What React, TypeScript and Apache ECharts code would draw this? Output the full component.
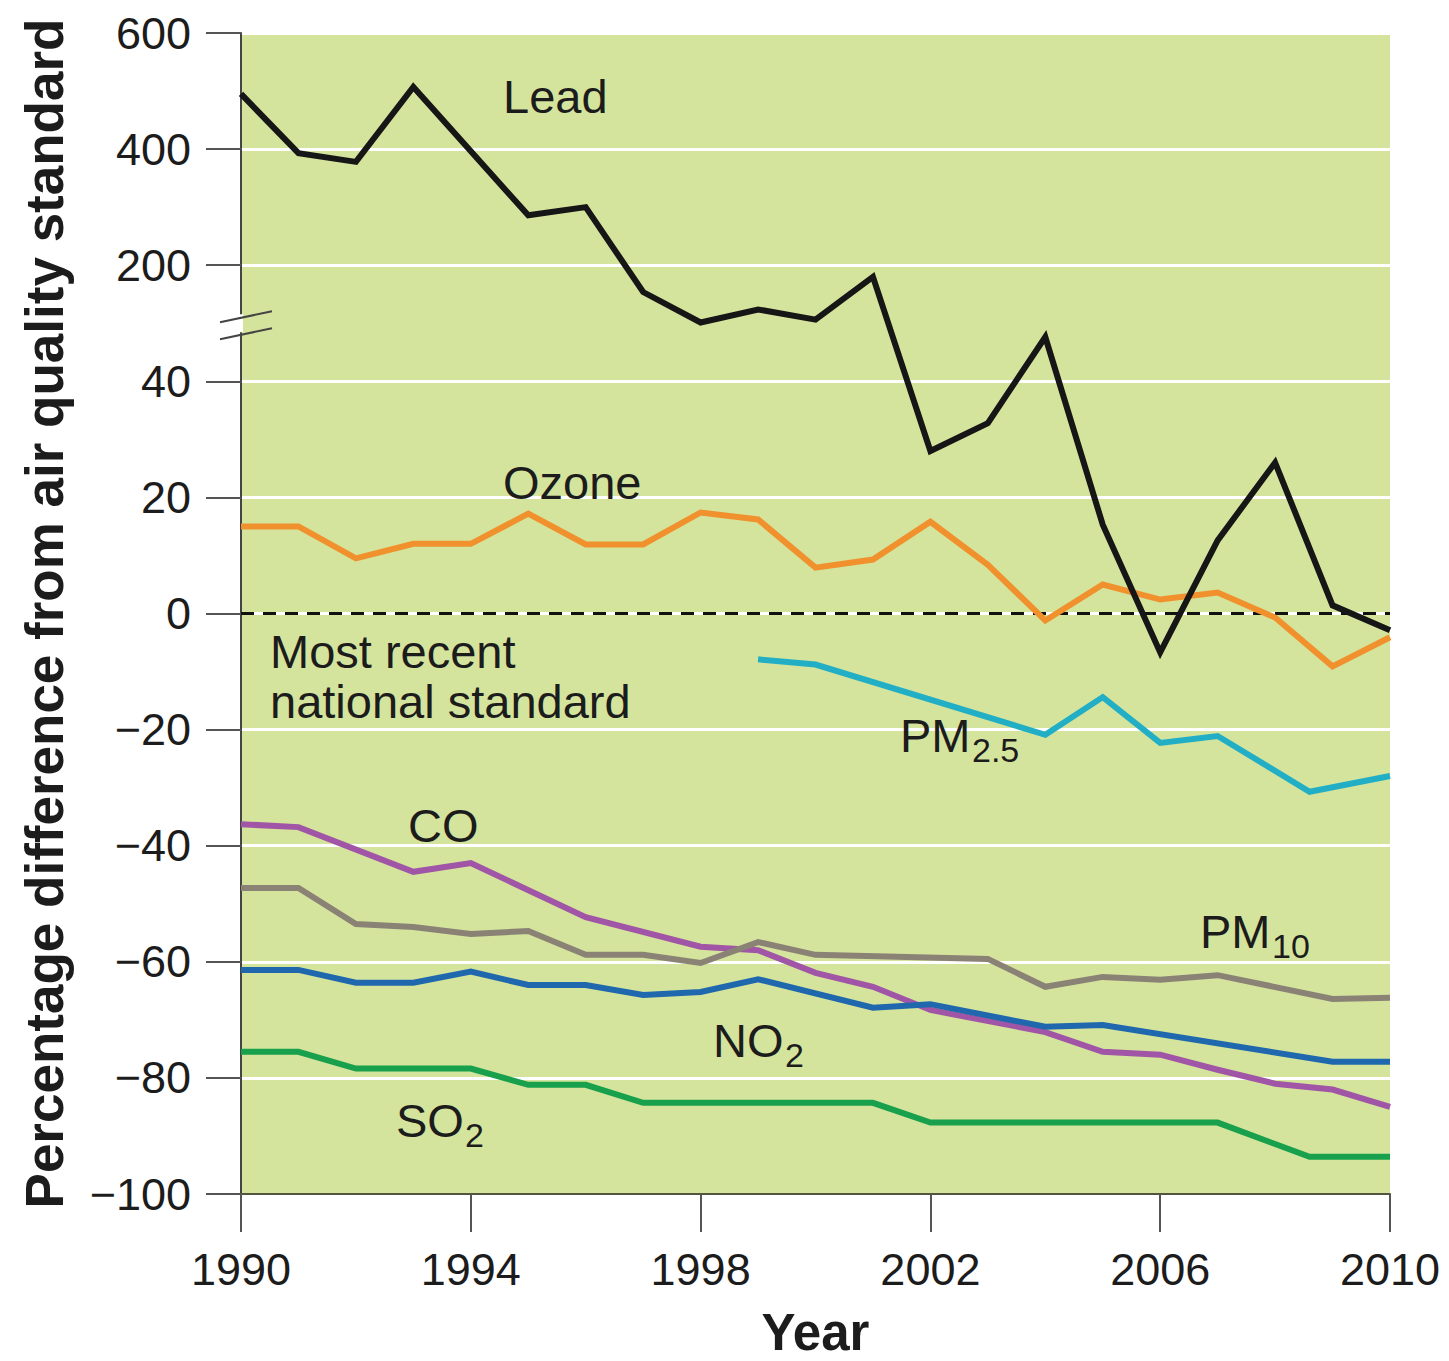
import React, { useEffect, useRef } from "react";
import * as echarts from "echarts";

const FONT = "'Liberation Sans', Arial, Helvetica, sans-serif";
const BASE_YEAR = 1990;
const LAST_YEAR = 2010;
const X_TICK_STEP = 4;

// Y tick values as drawn on the (broken) axis
const yTickLabels = [-100, -80, -60, -40, -20, 0, 20, 40, 200, 400, 600];

// Series: [year, percentage difference from air-quality standard]
const lead: [number, number][] = [
  [1990, 495], [1991, 393], [1992, 378], [1993, 507], [1995, 286], [1996, 300],
  [1997, 163], [1998, 121], [1999, 139], [2000, 125], [2001, 184], [2002, 28.0],
  [2003, 32.8], [2004, 101], [2005, 15.3], [2006, -6.7], [2007, 12.6], [2008, 26.0],
  [2009, 1.4], [2010, -2.9],
];
const ozone: [number, number][] = [
  [1990, 15.0], [1991, 15.0], [1992, 9.5], [1993, 12.0], [1994, 12.0], [1995, 17.2],
  [1996, 11.9], [1997, 11.9], [1998, 17.4], [1999, 16.2], [2000, 7.9], [2001, 9.3],
  [2002, 15.8], [2003, 8.4], [2004, -1.2], [2005, 5.0], [2006, 2.4], [2007, 3.6],
  [2008, -0.7], [2009, -9.1], [2010, -4.1],
];
const pm25: [number, number][] = [
  [1999, -7.9], [2000, -8.8], [2004, -20.9], [2005, -14.4], [2006, -22.3],
  [2007, -21.1], [2008.6, -30.7], [2010, -28.0],
];
const co: [number, number][] = [
  [1990, -36.3], [1991, -36.8], [1993, -44.5], [1994, -43.0], [1996, -52.3],
  [1998, -57.4], [1999, -58.0], [2000, -61.9], [2001, -64.3], [2002, -68.3],
  [2004, -72.1], [2005, -75.5], [2006, -76.0], [2007, -78.6], [2008, -81.0],
  [2009, -82.0], [2010, -85.0],
];
const pm10: [number, number][] = [
  [1990, -47.3], [1991, -47.3], [1992, -53.5], [1993, -54.0], [1994, -55.2],
  [1995, -54.7], [1996, -58.8], [1997, -58.8], [1998, -60.2], [1999, -56.6],
  [2000, -58.8], [2003, -59.5], [2004, -64.3], [2005, -62.6], [2006, -63.1],
  [2007, -62.3], [2009, -66.4], [2010, -66.2],
];
const no2: [number, number][] = [
  [1990, -61.4], [1991, -61.4], [1992, -63.6], [1993, -63.6], [1994, -61.7],
  [1995, -64.0], [1996, -64.0], [1997, -65.7], [1998, -65.2], [1999, -63.0],
  [2001, -67.9], [2002, -67.3], [2004, -71.2], [2005, -70.9], [2009, -77.2],
  [2010, -77.2],
];
const so2: [number, number][] = [
  [1990, -75.5], [1991, -75.5], [1992, -78.4], [1994, -78.4], [1995, -81.2],
  [1996, -81.2], [1997, -84.3], [2001, -84.3], [2002, -87.7], [2007, -87.7],
  [2008.6, -93.6], [2010, -93.6],
];
const standardLevel = 0;

// Broken axis: linear up to 40, compressed 40..200, then 200 per step above.
const toAxis = (v: number) => {
  if (v <= 40) return v;
  if (v <= 200) return 40 + (v - 40) / 8;
  return 60 + (v - 200) / 10;
};
const fromAxis = (d: number) => {
  if (d <= 40) return d;
  if (d <= 60) return 40 + (d - 40) * 8;
  return 200 + (d - 60) * 10;
};

const toPts = (arr: [number, number][]) =>
  arr.map(([yr, v]) => [yr - BASE_YEAR, toAxis(v)]);

const TXT = "#1c1c1c";

export default function App() {
  const ref = useRef<HTMLDivElement>(null);

  useEffect(() => {
    if (!ref.current) return;
    const chart = echarts.init(ref.current, undefined, { renderer: "svg" });

    const line = (name: string, data: [number, number][], color: string, z: number) => ({
      name,
      type: "line",
      data: toPts(data),
      showSymbol: false,
      symbol: "none",
      z,
      lineStyle: { color, width: 6, join: "miter" },
    });

    chart.setOption({
      animation: false,
      grid: {
        left: 241,
        right: 1449 - 1390,
        top: 33,
        bottom: 1361 - 1194,
        show: true,
        backgroundColor: "#d5e49c",
        borderWidth: 0,
        containLabel: false,
        outerBoundsMode: "none",
      },
      xAxis: {
        type: "value",
        min: 0,
        max: LAST_YEAR - BASE_YEAR,
        interval: X_TICK_STEP,
        name: "Year",
        nameLocation: "middle",
        nameGap: 113,
        nameTextStyle: { fontSize: 51, fontWeight: "bold", color: TXT, fontFamily: FONT },
        axisLine: { show: true, onZero: false, lineStyle: { color: "#55553f", width: 2 } },
        axisTick: { show: true, length: 38, lineStyle: { color: "#555", width: 2 } },
        axisLabel: {
          margin: 53,
          fontSize: 45,
          color: TXT,
          fontFamily: FONT,
          formatter: (v: number) => String(v + BASE_YEAR),
        },
        splitLine: { show: false },
      },
      yAxis: {
        type: "value",
        min: toAxis(yTickLabels[0]),
        max: toAxis(yTickLabels[yTickLabels.length - 1]),
        interval: 20,
        name: "Percentage difference from air quality standard",
        nameLocation: "middle",
        nameGap: 170,
        nameTextStyle: { fontSize: 53, fontWeight: "bold", color: TXT, fontFamily: FONT },
        axisLine: { show: true, lineStyle: { color: "#444", width: 2 } },
        axisTick: { show: true, length: 35, lineStyle: { color: "#555", width: 2 } },
        axisLabel: {
          margin: 50,
          fontSize: 45,
          color: TXT,
          fontFamily: FONT,
          formatter: (d: number) => {
            const v = Math.round(fromAxis(d));
            return v < 0 ? "\u2212" + Math.abs(v) : String(v);
          },
        },
        splitLine: { show: true, lineStyle: { color: "#ffffff", width: 3 } },
      },
      series: [
        line("CO", co, "#a055a6", 2),
        line("PM10", pm10, "#8b8276", 3),
        line("NO2", no2, "#1f68ad", 4),
        line("SO2", so2, "#18a04c", 5),
        line("PM2.5", pm25, "#22afc6", 6),
        {
          ...line("Ozone", ozone, "#f0912e", 7),
          markLine: {
            silent: true,
            symbol: "none",
            label: { show: false },
            lineStyle: { color: "#111", type: [13, 9], width: 3 },
            data: [{ yAxis: toAxis(standardLevel) }],
          },
        },
        line("Lead", lead, "#161616", 8),
      ],
    });

    const [ax, by] = chart.convertToPixel({ gridIndex: 0 }, [0, 50]) as number[];
    const text = (t: string, x: number, y: number, size: number) => ({
      type: "text",
      x,
      y,
      z: 50,
      style: {
        text: t,
        fill: TXT,
        fontSize: size,
        fontFamily: FONT,
        verticalAlign: "middle",
        align: "left",
      },
    });
    const label = (t: string, x: number, y: number) => text(t, x, y, 47);
    const subLabel = (main: string, sub: string, x: number, y: number, subDx: number) => [
      text(main, x, y, 47),
      text(sub, x + subDx, y + 15, 34),
    ];

    chart.setOption({
      graphic: [
        { type: "rect", z: 40, shape: { x: ax - 4, y: by - 9, width: 6, height: 18 }, style: { fill: "#ffffff" } },
        { type: "line", z: 41, shape: { x1: ax - 21, y1: by - 1, x2: ax + 31, y2: by - 12 }, style: { stroke: "#444", lineWidth: 2 } },
        { type: "line", z: 41, shape: { x1: ax - 21, y1: by + 16, x2: ax + 31, y2: by + 5 }, style: { stroke: "#444", lineWidth: 2 } },
        label("Lead", 503, 96),
        label("Ozone", 503, 482),
        label("Most recent", 270, 651),
        label("national standard", 270, 701),
        label("CO", 408, 825),
        ...subLabel("PM", "2.5", 900, 735, 72),
        ...subLabel("PM", "10", 1200, 931, 72),
        ...subLabel("NO", "2", 713, 1040, 72),
        ...subLabel("SO", "2", 396, 1120, 69),
      ],
    });

    return () => chart.dispose();
  }, []);

  return (
    <div
      ref={ref}
      style={{ position: "absolute", left: 0, top: 0, width: 1449, height: 1361 }}
    />
  );
}
